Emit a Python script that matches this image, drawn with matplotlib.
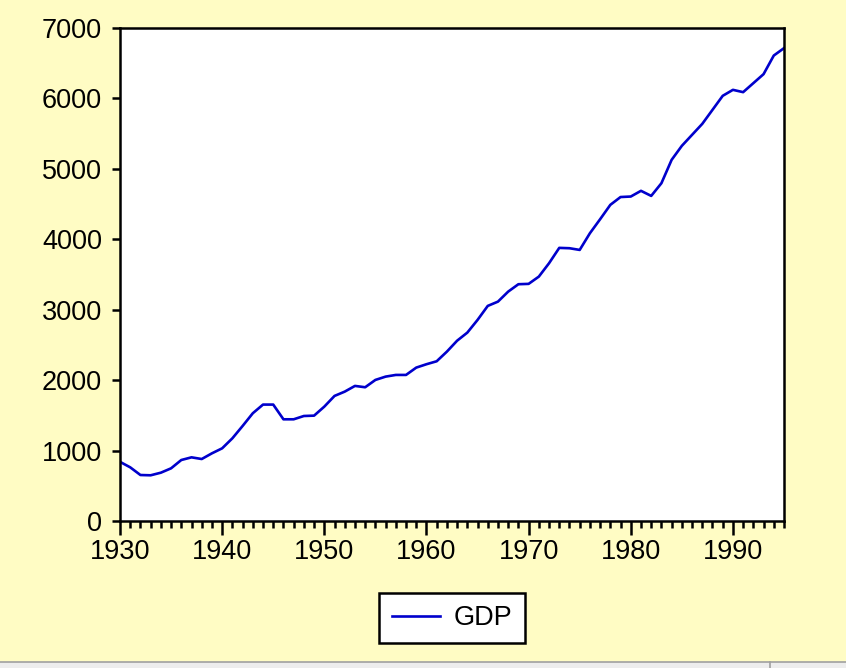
import matplotlib.pyplot as plt
from matplotlib.patches import Rectangle
from matplotlib.ticker import MultipleLocator

# GDP
years = list(range(1930, 1996))
gdp = [840, 762, 653, 649, 686, 748, 866, 904, 880, 961,
       1032, 1174, 1349, 1530, 1653, 1653, 1444, 1444, 1491, 1496,
       1624, 1776, 1837, 1918, 1899, 2003, 2050, 2074, 2074, 2178,
       2226, 2268, 2405, 2560, 2675, 2855, 3054, 3115, 3257, 3362,
       3367, 3470, 3660, 3878, 3873, 3849, 4086, 4285, 4489, 4600,
       4607, 4688, 4616, 4796, 5128, 5327, 5483, 5639, 5838, 6037,
       6122, 6089, 6217, 6345, 6609, 6714]
yticks = [0, 1000, 2000, 3000, 4000, 5000, 6000, 7000]
xticks = [1930, 1940, 1950, 1960, 1970, 1980, 1990]

plt.rcParams['font.family'] = ['Liberation Sans', 'DejaVu Sans']

bg = '#FFFCC4'
fs = 19.5
fig = plt.figure(figsize=(8.46, 6.68), dpi=100, facecolor=bg)
ax = fig.add_axes([120/846, 1 - 521/668, 664/846, 493/668])
ax.set_facecolor('white')

ax.plot(years, gdp, color='#0000CC', lw=1.9, label='GDP')

ax.set_xlim(1930, 1995)
ax.set_ylim(0, 7000)
ax.set_yticks(yticks)
ax.set_xticks(xticks)
ax.xaxis.set_minor_locator(MultipleLocator(1))

for s in ax.spines.values():
    s.set_linewidth(1.8)
    s.set_color('black')

ax.tick_params(axis='y', which='major', direction='out', length=6, width=1.8,
               labelsize=fs, pad=7)
ax.tick_params(axis='x', which='major', direction='out', length=10, width=1.8,
               labelsize=fs, pad=3)
ax.tick_params(axis='x', which='minor', direction='out', length=5, width=1.8)

leg = ax.legend(loc='center', bbox_to_anchor=(0.5, -0.197), fontsize=fs,
                frameon=True, fancybox=False, handlelength=1.8,
                handletextpad=0.5, borderpad=0.45)
leg.get_frame().set_edgecolor('black')
leg.get_frame().set_linewidth(1.8)
leg.get_frame().set_facecolor('white')
leg.get_frame().set_alpha(1)

# grey status strip at the bottom
fig.patches.append(Rectangle((0, 0), 1, 6/668, transform=fig.transFigure,
                             facecolor='#EDEDED', edgecolor='none'))
fig.lines.append(plt.Line2D([0, 1], [6/668, 6/668], transform=fig.transFigure,
                            color='#A0A0A0', lw=1.2))
fig.lines.append(plt.Line2D([770/846, 770/846], [0, 6/668],
                            transform=fig.transFigure, color='#A0A0A0', lw=1.2))

fig.savefig('out.png', dpi=100, facecolor=bg)
